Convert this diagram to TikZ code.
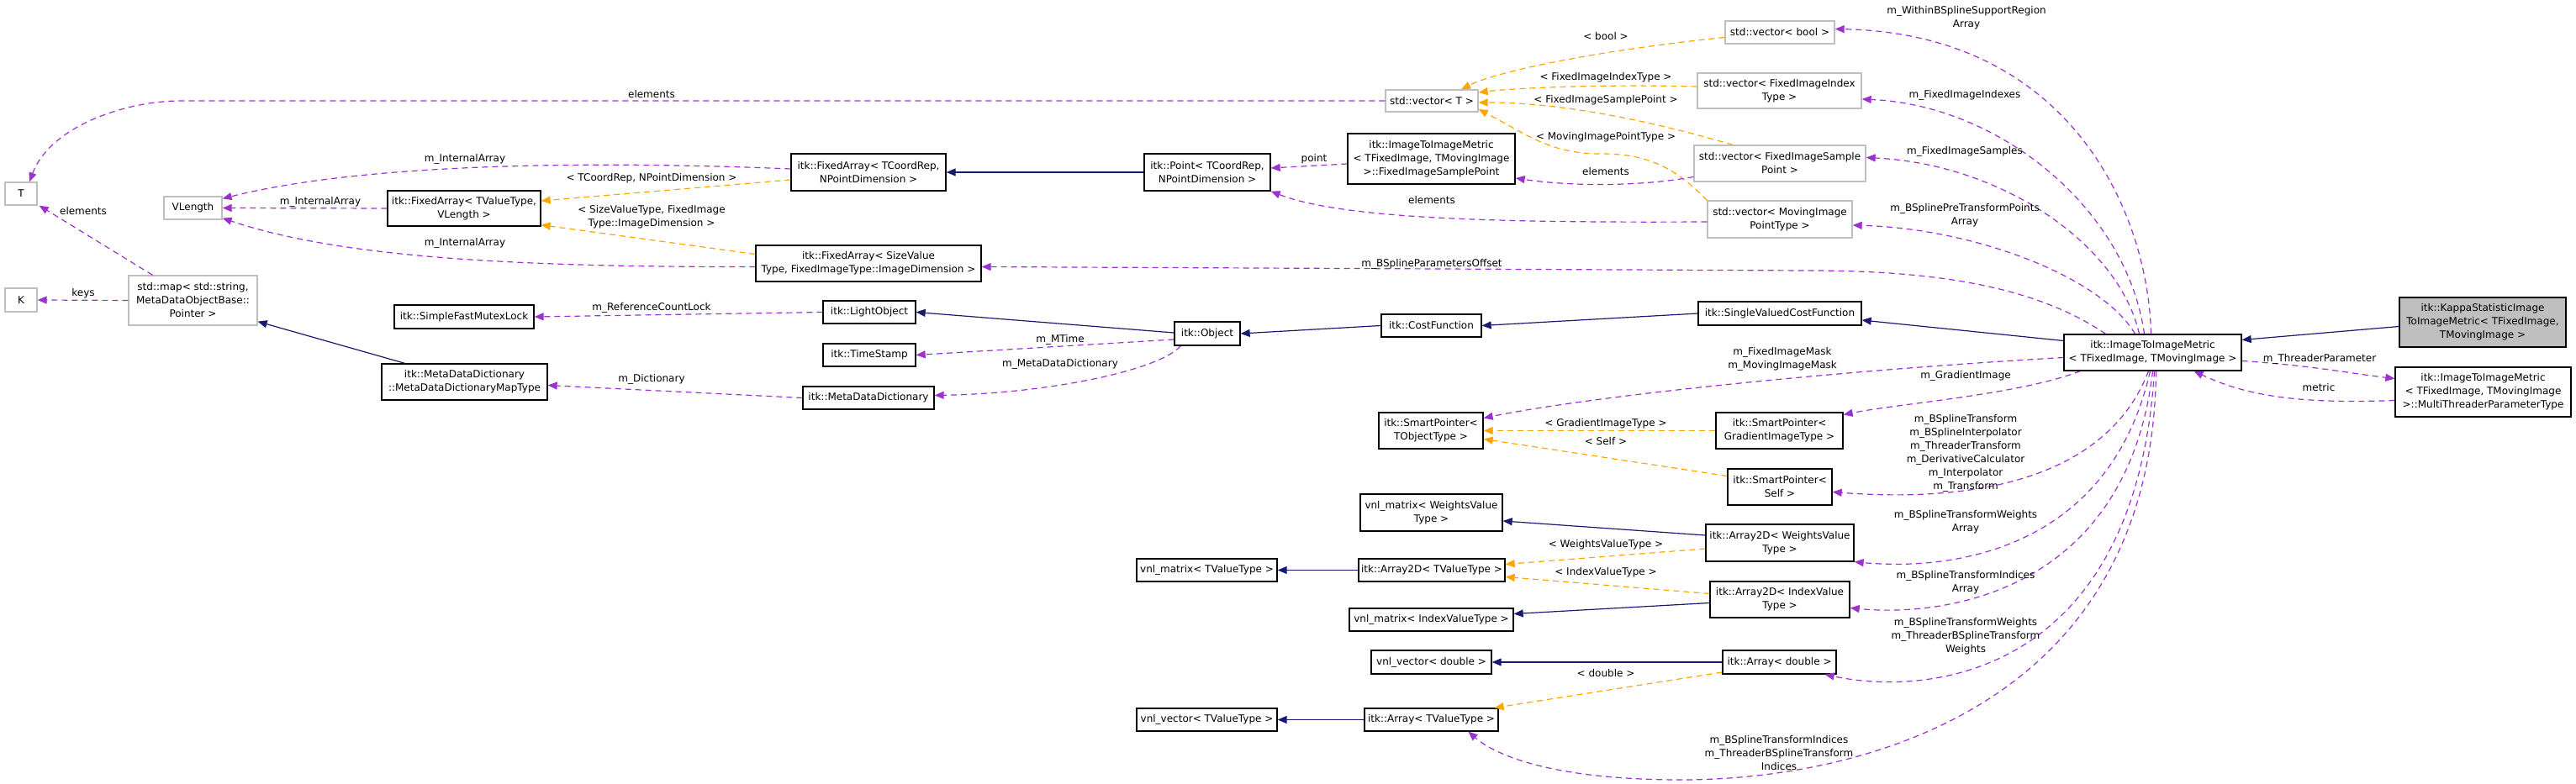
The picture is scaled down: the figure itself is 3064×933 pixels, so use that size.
\documentclass[tikz,border=0pt]{standalone}
\usepackage{fontspec}
\setmainfont{DejaVu Sans}
\usetikzlibrary{arrows.meta}
\definecolor{usec}{HTML}{9A32CD}
\definecolor{tplc}{HTML}{FFA500}
\definecolor{inhc}{HTML}{191970}
\definecolor{grayb}{HTML}{BFBFBF}
\newcommand{\nd}[7]{\node[#6, minimum width={(#3-#2)*1pt}, minimum height={(#5-#4)*1pt}] (#1) at ({(#2+#3)/2},{(#4+#5)/2}) {#7};}
\begin{document}
\begin{tikzpicture}[x=1pt,y=-1pt,
  every node/.style={font=\fontsize{12}{16}\selectfont, inner sep=0pt, align=center},
  box/.style={draw=black, line width=1.3pt, fill=white},
  gbox/.style={draw=grayb, line width=1.3pt, fill=white},
  kbox/.style={draw=black, line width=1.3pt, fill=grayb},
  lab/.style={fill=none},
  use/.style={draw=usec, line width=1.2pt, dash pattern=on 7pt off 5pt, -{Triangle[length=11pt,width=9pt]}},
  tpl/.style={draw=tplc, line width=1.2pt, dash pattern=on 7pt off 5pt, -{Triangle[length=11pt,width=9pt]}},
  inh/.style={draw=inhc, line width=1.2pt, -{Triangle[length=11pt,width=9pt]}}]
\useasboundingbox (0,0) rectangle (3064,933);
% nodes
\nd{T}{6}{44}{217}{244}{gbox}{T}
\nd{K}{6}{44}{343}{371}{gbox}{K}
\nd{VL}{195}{264}{234}{261}{gbox}{VLength}
\nd{map}{153}{306}{328}{387}{gbox}{std::map< std::string,\\ MetaDataObjectBase::\\ Pointer >}
\nd{faTV}{461}{643}{227}{269}{box}{itk::FixedArray< TValueType,\\ VLength >}
\nd{faTC}{941}{1125}{183}{227}{box}{itk::FixedArray< TCoordRep,\\ NPointDimension >}
\nd{faSV}{899}{1167}{292}{335}{box}{itk::FixedArray< SizeValue\\Type, FixedImageType::ImageDimension >}
\nd{mutex}{469}{635}{363}{391}{box}{itk::SimpleFastMutexLock}
\nd{light}{979}{1089}{358}{385}{box}{itk::LightObject}
\nd{ts}{979}{1089}{409}{436}{box}{itk::TimeStamp}
\nd{mdd}{955}{1111}{460}{487}{box}{itk::MetaDataDictionary}
\nd{mapT}{454}{651}{433}{476}{box}{itk::MetaDataDictionary\\::MetaDataDictionaryMapType}
\nd{obj}{1397}{1475}{383}{411}{box}{itk::Object}
\nd{cost}{1643}{1762}{374}{401}{box}{itk::CostFunction}
\nd{point}{1361}{1511}{183}{227}{box}{itk::Point< TCoordRep,\\ NPointDimension >}
\nd{fisp}{1603}{1802}{159}{219}{box}{itk::ImageToImageMetric\\< TFixedImage, TMovingImage\\ >::FixedImageSamplePoint}
\nd{vT}{1648}{1758}{107}{133}{gbox}{std::vector< T >}
\nd{vB}{2052}{2182}{25}{52}{gbox}{std::vector< bool >}
\nd{vI}{2019}{2214}{87}{129}{gbox}{std::vector< FixedImageIndex\\Type >}
\nd{vS}{2015}{2219}{173}{216}{gbox}{std::vector< FixedImageSample\\Point >}
\nd{vM}{2031}{2203}{239}{283}{gbox}{std::vector< MovingImage\\PointType >}
\nd{svcf}{2020}{2214}{359}{387}{box}{itk::SingleValuedCostFunction}
\nd{itim}{2455}{2666}{398}{441}{box}{itk::ImageToImageMetric\\< TFixedImage, TMovingImage >}
\nd{kappa}{2854}{3052}{354}{413}{kbox}{itk::KappaStatisticImage\\ToImageMetric< TFixedImage,\\ TMovingImage >}
\nd{mtp}{2849}{3058}{437}{496}{box}{itk::ImageToImageMetric\\< TFixedImage, TMovingImage\\ >::MultiThreaderParameterType}
\nd{spT}{1640}{1764}{491}{534}{box}{itk::SmartPointer<\\ TObjectType >}
\nd{spG}{2041}{2192}{491}{534}{box}{itk::SmartPointer<\\ GradientImageType >}
\nd{spS}{2055}{2179}{558}{601}{box}{itk::SmartPointer<\\ Self >}
\nd{vmW}{1618}{1787}{588}{632}{box}{vnl\_matrix< WeightsValue\\ Type >}
\nd{a2W}{2029}{2205}{624}{668}{box}{itk::Array2D< WeightsValue\\ Type >}
\nd{vmT}{1352}{1519}{665}{692}{box}{vnl\_matrix< TValueType >}
\nd{a2T}{1616}{1790}{665}{692}{box}{itk::Array2D< TValueType >}
\nd{a2I}{2034}{2200}{692}{735}{box}{itk::Array2D< IndexValue\\ Type >}
\nd{vmI}{1605}{1800}{724}{751}{box}{vnl\_matrix< IndexValueType >}
\nd{vvD}{1631}{1774}{774}{802}{box}{vnl\_vector< double >}
\nd{aD}{2049}{2184}{774}{802}{box}{itk::Array< double >}
\nd{vvT}{1352}{1519}{843}{870}{box}{vnl\_vector< TValueType >}
\nd{aT}{1623}{1782}{843}{870}{box}{itk::Array< TValueType >}
% inheritance
\draw[inh] ([yshift=1pt]obj.west) -- (light.east);
\draw[inh] ([xshift=-71pt]mapT.north) -- ([yshift=5pt]map.south east);
\draw[inh] (cost.west) -- (obj.east);
\draw[inh] (svcf.west) -- (cost.east);
\draw[inh] ([yshift=14pt]itim.west) -- ([yshift=-8pt]svcf.east);
\draw[inh] ([yshift=-5pt]kappa.west) -- ([yshift=15pt]itim.east);
\draw[inh] (point.west) -- (faTC.east);
\draw[inh] ([yshift=9pt]a2W.west) -- ([yshift=-10pt]vmW.east);
\draw[inh] (a2T.west) -- (vmT.east);
\draw[inh] ([yshift=-4pt]a2I.west) -- ([yshift=7pt]vmI.east);
\draw[inh] (aD.west) -- (vvD.east);
\draw[inh] (aT.west) -- (vvT.east);
% template
\draw[tpl] ([yshift=-9pt]faTC.west) -- ([yshift=9pt]faTV.east);
\draw[tpl] ([yshift=11pt]faSV.west) -- ([yshift=2pt]faTV.south east);
\draw[tpl] ([yshift=-6pt]vB.west) .. controls (1900,60) and (1780,85) .. ([xshift=35pt]vT.north);
\draw[tpl] ([yshift=5pt]vI.west) .. controls (1900,100) and (1800,105) .. ([yshift=10pt]vT.east);
\draw[tpl] ([xshift=-56pt]vS.north) .. controls (1950,140) and (1850,122) .. ([yshift=-2pt]vT.east);
\draw[tpl] (vM.north west) .. controls (1993,200) and (1960,182) .. (1900,183) .. controls (1843,182) and (1816,160) .. ([yshift=-10pt]vT.east);
\draw[tpl] (spG.west) -- (spT.east);
\draw[tpl] ([yshift=13pt]spS.west) -- ([yshift=-10pt]spT.east);
\draw[tpl] ([yshift=-7pt]a2W.west) -- ([yshift=7pt]a2T.east);
\draw[tpl] ([yshift=7pt]a2I.west) -- ([yshift=-8pt]a2T.east);
\draw[tpl] ([yshift=-12pt]aD.west) -- ([xshift=-5pt]aT.north east);
% usage
\draw[use] (vT.west) -- (215,120) .. controls (150,120) and (60,150) .. ([xshift=10pt]T.north);
\draw[use] ([xshift=-48pt]map.north) -- ([xshift=2pt]T.south east);
\draw[use] (map.west) -- (K.east);
\draw[use] ([yshift=4pt]faTC.west) .. controls (750,193) and (450,190) .. ([yshift=-3pt]VL.north east);
\draw[use] (faTV.west) -- (VL.east);
\draw[use] ([yshift=-4pt]faSV.west) .. controls (600,318) and (400,305) .. ([yshift=2pt]VL.south east);
\draw[use] (light.west) -- (mutex.east);
\draw[use] ([yshift=-7pt]obj.west) -- (ts.east);
\draw[use] ([xshift=8pt]obj.south west) .. controls (1380,440) and (1250,468) .. ([yshift=3pt]mdd.east);
\draw[use] (mdd.west) -- ([yshift=-4pt]mapT.east);
\draw[use] ([yshift=-6pt]fisp.west) -- ([yshift=5pt]point.east);
\draw[use] ([yshift=-16pt]vS.west) .. controls (1950,222) and (1870,222) .. ([yshift=-23pt]fisp.east);
\draw[use] ([yshift=-3pt]vM.west) .. controls (1800,265) and (1600,262) .. (point.south east);
\draw[use] ([xshift=-2pt]itim.north) .. controls (2555,250) and (2460,40) .. ([yshift=4pt]vB.east);
\draw[use] ([xshift=-10pt]itim.north) .. controls (2530,250) and (2380,125) .. ([yshift=-10pt]vI.east);
\draw[use] ([xshift=-16pt]itim.north) .. controls (2520,290) and (2380,195) .. ([yshift=7pt]vS.east);
\draw[use] ([xshift=-21pt]itim.north) .. controls (2500,330) and (2350,272) .. ([yshift=-7pt]vM.east);
\draw[use] ([xshift=-56pt]itim.north) .. controls (2420,340) and (2300,322) .. (2150,322) -- ([yshift=-4pt]faSV.east);
\draw[use] ([yshift=-6pt]itim.west) .. controls (2200,440) and (1900,470) .. ([yshift=15pt]spT.east);
\draw[use] ([xshift=-86pt]itim.south) .. controls (2400,470) and (2260,480) .. ([yshift=19pt]spG.east);
\draw[use] ([xshift=-5pt]itim.south) .. controls (2510,560) and (2370,600) .. ([yshift=-6pt]spS.east);
\draw[use] ([xshift=-3pt]itim.south) .. controls (2510,650) and (2330,680) .. (a2W.south east);
\draw[use] (itim.south) .. controls (2530,700) and (2320,735) .. ([yshift=-10pt]a2I.east);
\draw[use] ([xshift=2pt]itim.south) .. controls (2540,800) and (2300,830) .. ([xshift=-14pt]aD.south east);
\draw[use] ([xshift=4pt]itim.south) .. controls (2560,850) and (2200,928) .. (2000,928) .. controls (1850,928) and (1780,900) .. ([xshift=44pt]aT.south);
\draw[use] ([yshift=-10pt]itim.east) .. controls (2750,435) and (2800,445) .. ([yshift=16pt]mtp.west);
\draw[use] ([yshift=-10pt]mtp.west) .. controls (2750,480) and (2680,475) .. ([xshift=49pt]itim.south);
% labels
\node[lab] at (775,112) {elements};
\node[lab] at (99,251) {elements};
\node[lab] at (99,349) {keys};
\node[lab] at (553,189) {m\_InternalArray};
\node[lab] at (381,240) {m\_InternalArray};
\node[lab] at (553,289) {m\_InternalArray};
\node[lab] at (775,212) {< TCoordRep, NPointDimension >};
\node[lab] at (775,258) {< SizeValueType, FixedImage\\Type::ImageDimension >};
\node[lab] at (775,366) {m\_ReferenceCountLock};
\node[lab] at (775,451) {m\_Dictionary};
\node[lab] at (1261,404) {m\_MTime};
\node[lab] at (1261,433) {m\_MetaDataDictionary};
\node[lab] at (1563,189) {point};
\node[lab] at (1910,43) {< bool >};
\node[lab] at (1910,92) {< FixedImageIndexType >};
\node[lab] at (1910,119) {< FixedImageSamplePoint >};
\node[lab] at (1910,163) {< MovingImagePointType >};
\node[lab] at (1910,204) {elements};
\node[lab] at (1703,238) {elements};
\node[lab] at (1703,314) {m\_BSplineParametersOffset};
\node[lab] at (2339,21) {m\_WithinBSplineSupportRegion\\Array};
\node[lab] at (2337,113) {m\_FixedImageIndexes};
\node[lab] at (2337,180) {m\_FixedImageSamples};
\node[lab] at (2337,256) {m\_BSplinePreTransformPoints\\Array};
\node[lab] at (2120,427) {m\_FixedImageMask\\m\_MovingImageMask};
\node[lab] at (2338,447) {m\_GradientImage};
\node[lab] at (2338,539) {m\_BSplineTransform\\m\_BSplineInterpolator\\m\_ThreaderTransform\\m\_DerivativeCalculator\\m\_Interpolator\\m\_Transform};
\node[lab] at (2338,621) {m\_BSplineTransformWeights\\Array};
\node[lab] at (2338,693) {m\_BSplineTransformIndices\\Array};
\node[lab] at (2338,757) {m\_BSplineTransformWeights\\m\_ThreaderBSplineTransform\\Weights};
\node[lab] at (2116,896) {m\_BSplineTransformIndices\\m\_ThreaderBSplineTransform\\Indices};
\node[lab] at (1910,504) {< GradientImageType >};
\node[lab] at (1910,525) {< Self >};
\node[lab] at (1910,648) {< WeightsValueType >};
\node[lab] at (1910,681) {< IndexValueType >};
\node[lab] at (1910,801) {< double >};
\node[lab] at (2759,427) {m\_ThreaderParameter};
\node[lab] at (2758,461) {metric};
\end{tikzpicture}
\end{document}
